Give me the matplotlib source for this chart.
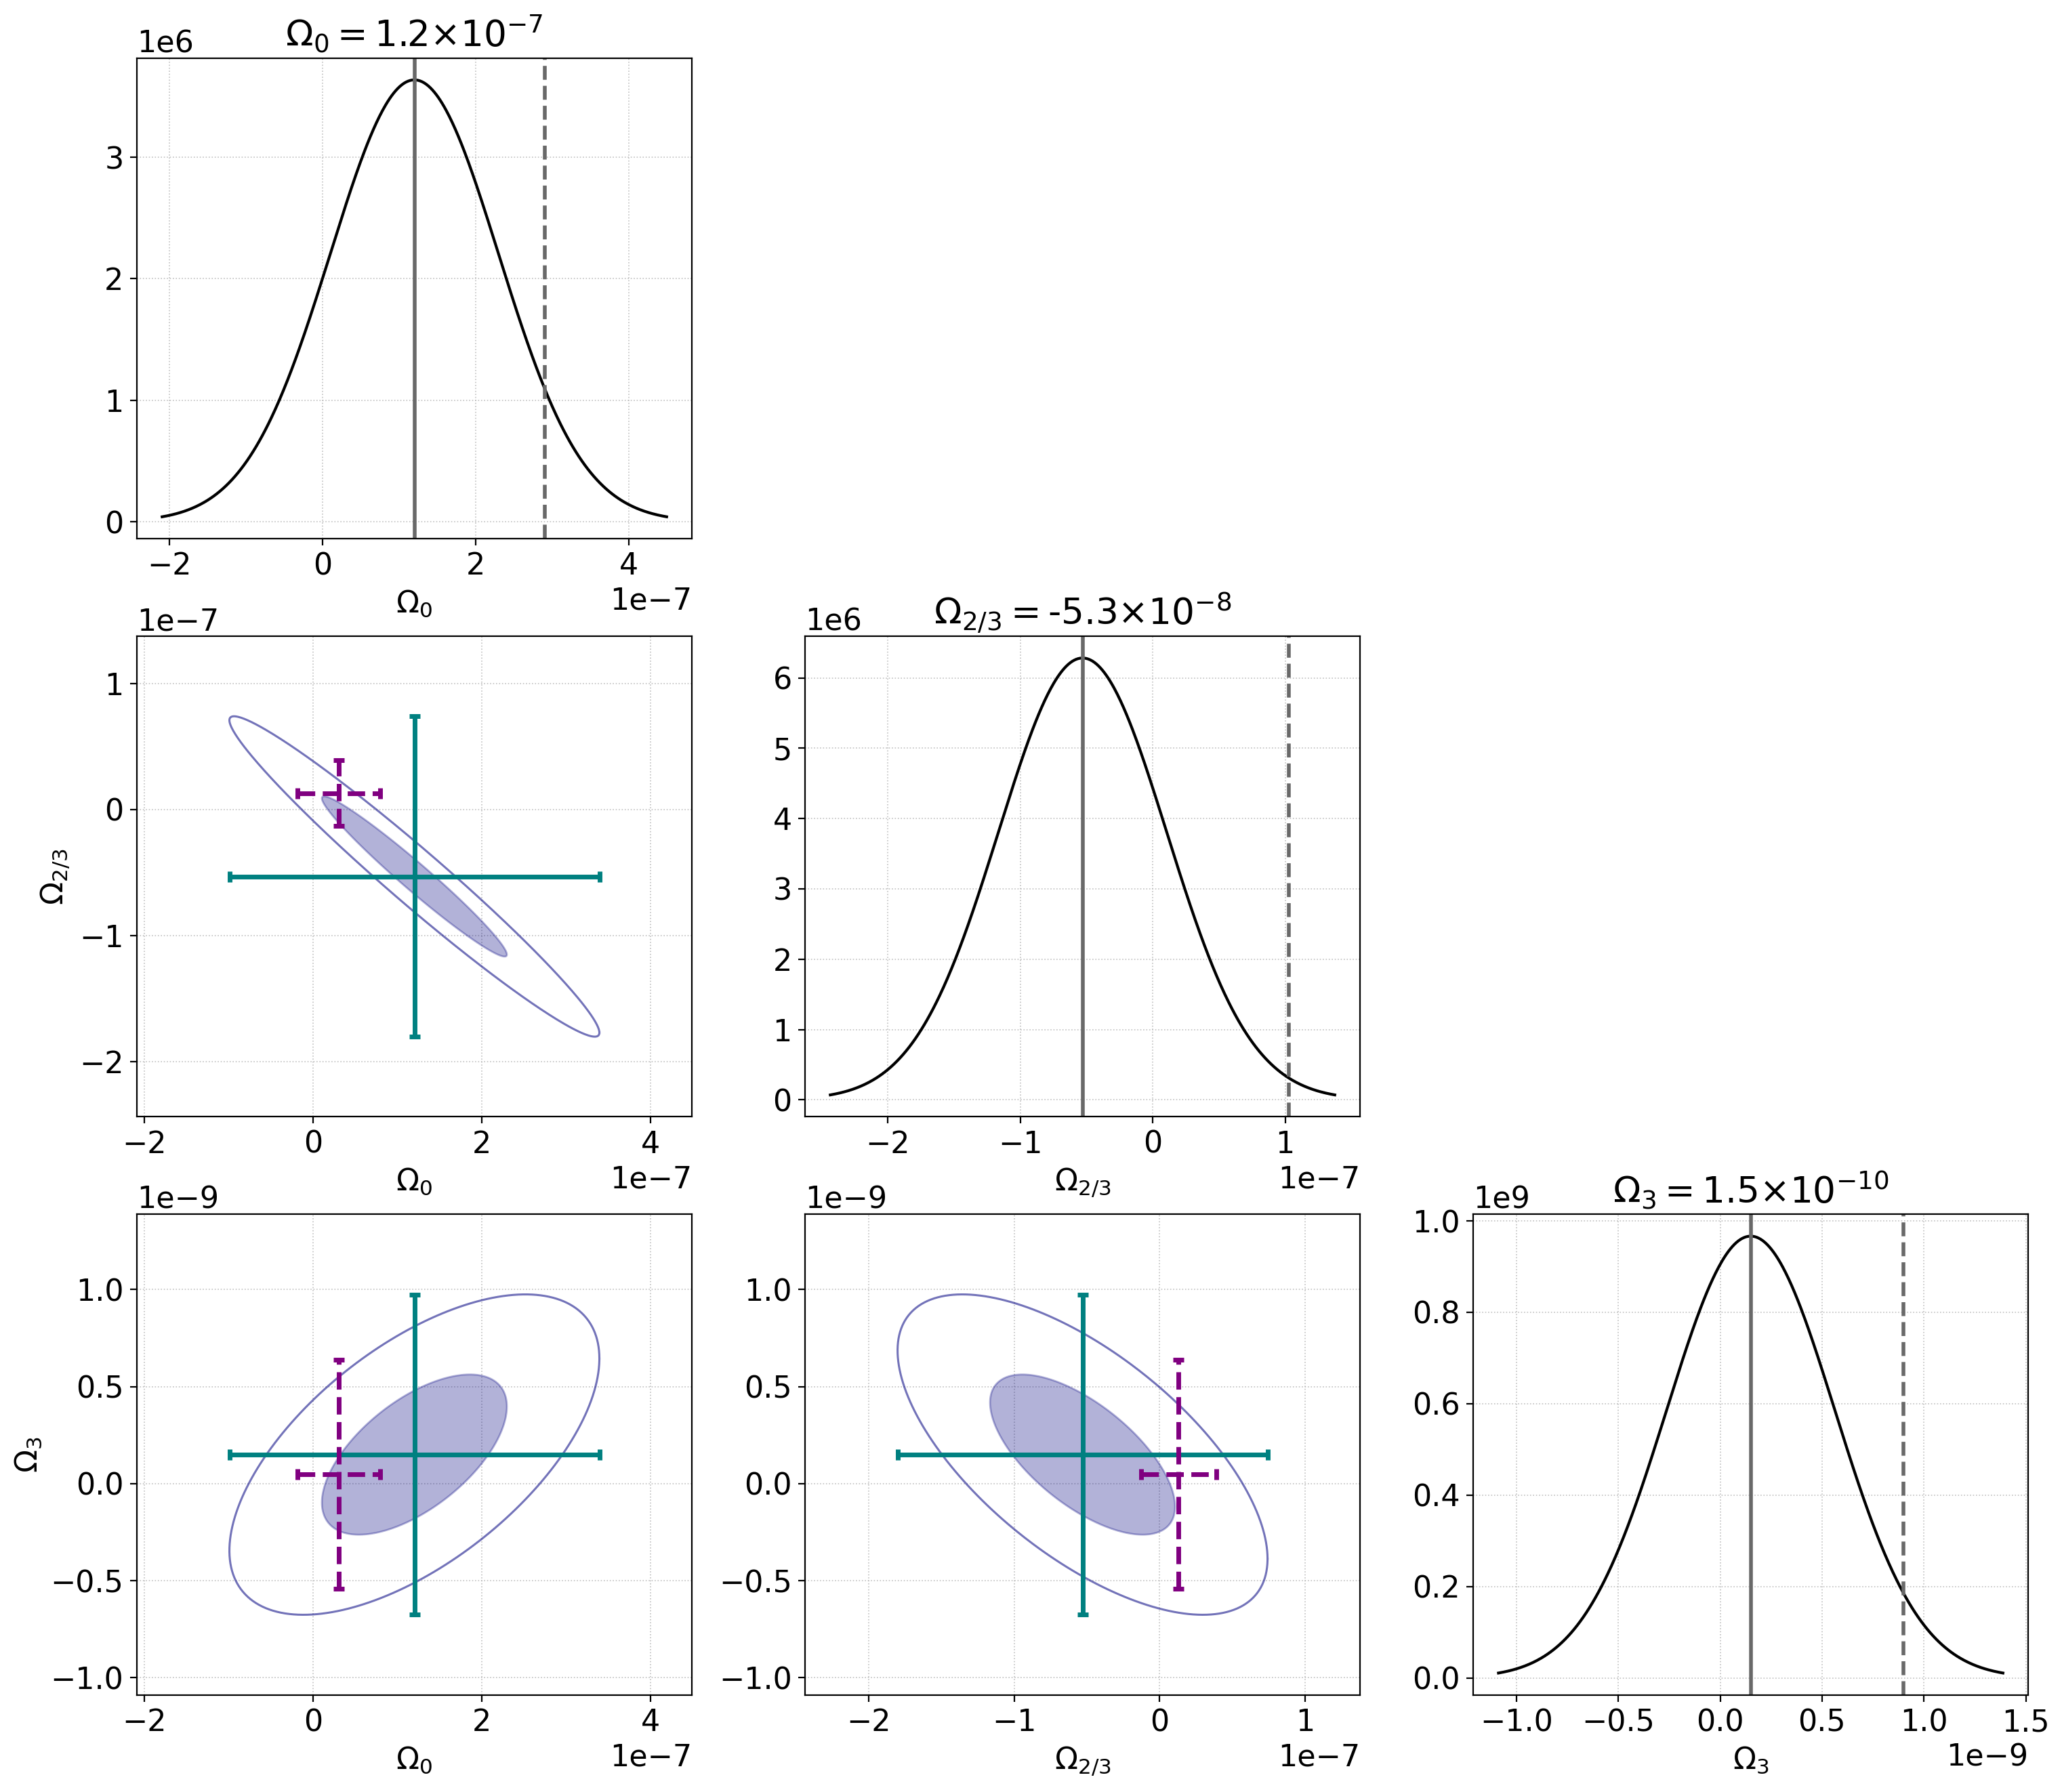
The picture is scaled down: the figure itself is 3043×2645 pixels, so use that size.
import numpy as np
import matplotlib
matplotlib.use("Agg")
import matplotlib.pyplot as plt

plt.rcParams['font.size'] = 16

# ---- data ----
labels = [r"$\Omega_0$", r"$\Omega_{2/3}$", r"$\Omega_3$"]
tex_names = [r"\Omega_0", r"\Omega_{2/3}", r"\Omega_3"]
title_mant = ["1.2", "-5.3", "1.5"]
title_exp = ["-7", "-8", "-10"]
means = [1.2e-7, -5.3e-8, 1.5e-10]
sigmas = [1.097e-7, 6.35e-8, 4.127e-10]
upper_limits = [2.9e-7, 1.03e-7, 0.9e-9]
# correlation coefficients between parameter pairs (i, j)
corr_pairs = [(0, 1), (0, 2), (1, 2)]
corr_values = [-0.975, 0.6, -0.65]
# alternative estimate (purple dashed cross)
alt_values = [0.30e-7, 0.13e-7, 0.05e-9]
alt_errors = [0.49e-7, 0.26e-7, 0.59e-9]

n = len(labels)
corr = np.eye(n)
for (i, j), r in zip(corr_pairs, corr_values):
    corr[i, j] = corr[j, i] = r
cov = corr * np.outer(sigmas, sigmas)

fig, axes = plt.subplots(n, n, figsize=(15.215, 13.225), dpi=200)
fig.subplots_adjust(left=0.0664, right=0.9836, top=0.9676, bottom=0.0542,
                    wspace=0.204, hspace=0.203)

for r in range(n):
    for c in range(n):
        ax = axes[r, c]
        if c > r:
            ax.axis('off')
            continue
        ax.grid(True, linestyle=':', color='#b0b0b0', linewidth=0.6, alpha=0.8)
        ax.set_axisbelow(True)
        if r == c:
            mu, s = means[r], sigmas[r]
            x = np.linspace(mu - 3 * s, mu + 3 * s, 500)
            y = np.exp(-0.5 * ((x - mu) / s) ** 2) / (s * np.sqrt(2 * np.pi))
            ax.plot(x, y, color='k', lw=1.5)
            ax.axvline(mu, color='dimgray', lw=2)
            ax.axvline(upper_limits[r], color='dimgray', lw=2, ls='--')
            ax.set_xlabel(labels[r])
            ax.set_title(rf"${tex_names[r]} = $" + title_mant[r]
                         + rf"$\times10^{{{title_exp[r]}}}$")
        else:
            i, j = c, r  # x param i, y param j
            sub = cov[np.ix_([i, j], [i, j])]
            t = np.linspace(0, 2 * np.pi, 400)
            L = np.linalg.cholesky(sub)
            circ = np.vstack([np.cos(t), np.sin(t)])
            for k in (2, 1):
                pts = k * (L @ circ)
                xs = means[i] + pts[0]
                ys = means[j] + pts[1]
                if k == 1:
                    ax.fill(xs, ys, facecolor='navy', edgecolor='navy',
                            alpha=0.3, lw=1, zorder=2)
                else:
                    ax.plot(xs, ys, color='navy', alpha=0.55, lw=1.1, zorder=2)
            ax.errorbar(means[i], means[j], xerr=2 * sigmas[i], yerr=2 * sigmas[j],
                        fmt='none', ecolor='teal', elinewidth=2.5, capsize=3,
                        capthick=2.5, zorder=3)
            eb = ax.errorbar(alt_values[i], alt_values[j], xerr=alt_errors[i],
                             yerr=alt_errors[j], fmt='none', ecolor='purple',
                             elinewidth=2.5, capsize=3, capthick=2.5, zorder=4)
            for lc in eb[2]:
                lc.set_linestyle('--')
            ax.set_xlim(means[i] - 3 * sigmas[i], means[i] + 3 * sigmas[i])
            ax.set_ylim(means[j] - 3 * sigmas[j], means[j] + 3 * sigmas[j])
            ax.set_xlabel(labels[i])
            if c == 0:
                ax.set_ylabel(labels[j])

fig.savefig("out.png", dpi=200)
